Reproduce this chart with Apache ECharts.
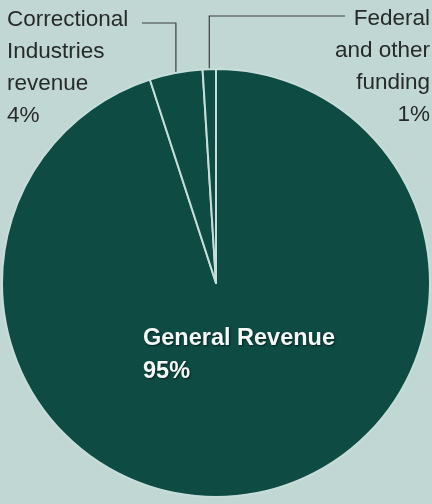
<!DOCTYPE html>
<html>
<head>
<meta charset="utf-8">
<script src="https://cdn.jsdelivr.net/npm/echarts@6/dist/echarts.min.js"></script>
<style>
  html, body { margin: 0; padding: 0; background: #c0d7d3; }
  #chart { width: 432px; height: 504px; }
</style>
</head>
<body>
<div id="chart"></div>
<script>
// Funding sources (percent)
const categories = ['General Revenue', 'Correctional Industries revenue', 'Federal and other funding'];
const shares = [95, 4, 1];
const labelLines = [
	['General Revenue', '95%'],
	['Correctional', 'Industries', 'revenue', '4%'],
	['Federal', 'and other', 'funding', '1%']
];

const chart = echarts.init(document.getElementById('chart'));

const option = {
	backgroundColor: '#c0d7d3',
	animation: false,
	series: [{
		type: 'pie',
		center: [216, 283],
		radius: 214,
		startAngle: 90,
		clockwise: true,
		avoidLabelOverlap: false,
		itemStyle: {
			color: '#0d4b43',
			borderColor: '#c6ddd9',
			borderWidth: 2
		},
		label: {
			show: true,
			position: 'outside',
			fontFamily: 'Liberation Sans, Arial, sans-serif',
			fontSize: 22.5,
			lineHeight: 32,
			color: '#262a29',
			formatter: function (p) {
				return labelLines[p.dataIndex].join('\n');
			}
		},
		labelLine: {
			show: true,
			length: 5,
			length2: 5,
			lineStyle: { color: '#3a3f3e', width: 1.2 }
		},
		data: categories.map(function (name, i) {
			const item = { name: name, value: shares[i] };
			if (i === 0) {
				item.label = {
					position: 'inside',
					color: '#f4f8f6',
					fontWeight: 'bold',
					fontSize: 23.5,
					lineHeight: 33,
					align: 'left',
					textShadowColor: 'rgba(0,0,0,0.55)',
					textShadowBlur: 2,
					textShadowOffsetX: 1,
					textShadowOffsetY: 1
				};
				item.labelLine = { show: false };
			}
			return item;
		}),
		labelLayout: function (params) {
			const i = params.dataIndex;
			if (i === 0) {
				return { x: 143, y: 322, align: 'left', verticalAlign: 'top' };
			}
			const a = params.labelLinePoints ? params.labelLinePoints[0] : [216, 70];
			if (i === 1) {
				return {
					x: 7, y: 4, align: 'left', verticalAlign: 'top',
					labelLinePoints: [[a[0], a[1]], [a[0], 23], [142, 23]]
				};
			}
			return {
				x: 430, y: 3, align: 'right', verticalAlign: 'top',
				labelLinePoints: [[a[0], a[1]], [a[0], 16], [345, 16]]
			};
		}
	}]
};

chart.setOption(option);
</script>
</body>
</html>
